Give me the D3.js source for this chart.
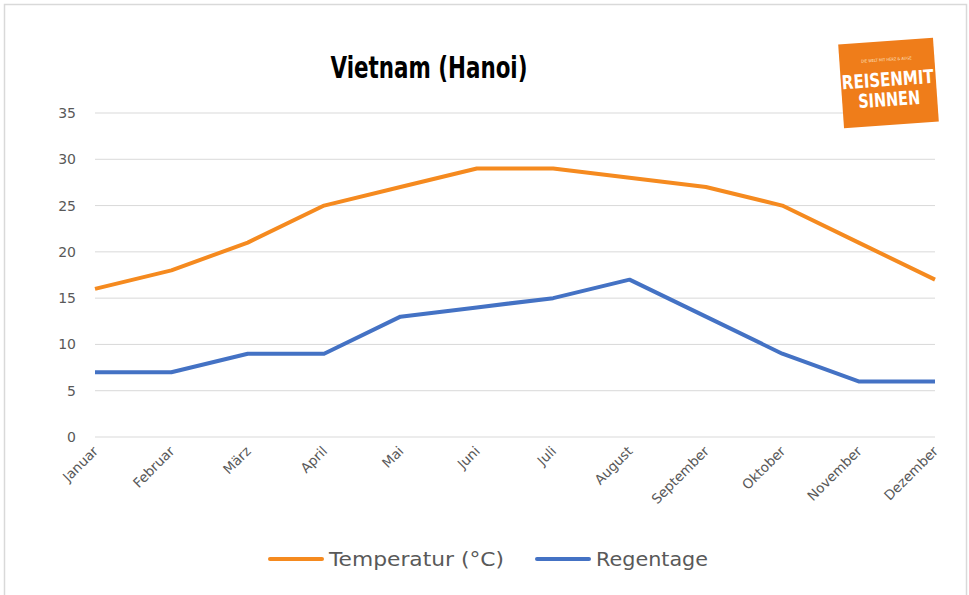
<!DOCTYPE html>
<html>
<head>
<meta charset="utf-8">
<script src="https://cdn.jsdelivr.net/npm/d3@7"></script>
<style>
  body { margin: 0; background: #fff; }
  svg { display: block; }
</style>
</head>
<body>
<div id="chart"></div>
<script>
// data
const months = ["Januar", "Februar", "März", "April", "Mai", "Juni", "Juli",
    "August", "September", "Oktober", "November", "Dezember"];
const temperatur = [16, 18, 21, 25, 27, 29, 29, 28, 27, 25, 21, 17];
const regentage = [7, 7, 9, 9, 13, 14, 15, 17, 13, 9, 6, 6];
const yTicks = [0, 5, 10, 15, 20, 25, 30, 35];
const seriesNames = ["Temperatur (°C)", "Regentage"];

const width = 969, height = 595;
const svg = d3.select("#chart").append("svg")
    .attr("width", width)
    .attr("height", height);

// outer frame
svg.append("rect")
    .attr("x", 4.5).attr("y", 4.5)
    .attr("width", 962).attr("height", 600)
    .attr("fill", "none")
    .attr("stroke", "#d9d9d9")
    .attr("stroke-width", 1.5);

const x = d3.scalePoint().domain(months).range([95, 935]);
const y = d3.scaleLinear().domain([0, 35]).range([437, 113]);

// gridlines
svg.append("g").selectAll("line")
    .data(yTicks)
    .enter().append("line")
    .attr("x1", 95).attr("x2", 935)
    .attr("y1", d => y(d)).attr("y2", d => y(d))
    .style("stroke", "#d9d9d9")
    .style("stroke-width", 1);

// y labels
svg.append("g").selectAll("text")
    .data(yTicks)
    .enter().append("text")
    .attr("x", 76)
    .attr("y", d => y(d) + 5)
    .attr("text-anchor", "end")
    .style("font-family", "DejaVu Sans")
    .style("font-size", "14px")
    .style("fill", "#595959")
    .text(d => d);

// x labels, rotated
svg.append("g").selectAll("text")
    .data(months)
    .enter().append("text")
    .attr("transform", d => `translate(${x(d) + 4},${452}) rotate(-45)`)
    .attr("text-anchor", "end")
    .style("font-family", "DejaVu Sans")
    .style("font-size", "13.5px")
    .style("fill", "#595959")
    .text(d => d);

const line = d3.line()
    .x((d, i) => x(months[i]))
    .y(d => y(d));

const colors = ["#f58a1f", "#4472c4"];
[temperatur, regentage].forEach((series, k) => {
    svg.append("path")
        .datum(series)
        .attr("d", line)
        .style("fill", "none")
        .style("stroke", colors[k])
        .style("stroke-width", 4)
        .style("stroke-linejoin", "round");
});

// title
svg.append("text")
    .attr("x", 429).attr("y", 78)
    .attr("text-anchor", "middle")
    .attr("textLength", 197)
    .attr("lengthAdjust", "spacingAndGlyphs")
    .style("font-family", "DejaVu Sans Condensed")
    .style("font-weight", "bold")
    .style("font-size", "31px")
    .style("fill", "#000")
    .text("Vietnam (Hanoi)");

// legend
const legend = svg.append("g");
const legendX = [270, 537];
const legendLen = [175, 112];
seriesNames.forEach((name, k) => {
    legend.append("line")
        .attr("x1", legendX[k]).attr("x2", legendX[k] + 52)
        .attr("y1", 559).attr("y2", 559)
        .style("stroke", colors[k])
        .style("stroke-width", 4)
        .style("stroke-linecap", "round");
    legend.append("text")
        .attr("x", legendX[k] + 59).attr("y", 566)
        .attr("textLength", legendLen[k])
        .attr("lengthAdjust", "spacingAndGlyphs")
        .style("font-family", "DejaVu Sans")
        .style("font-size", "20px")
        .style("fill", "#595959")
        .text(name);
});

// logo
const logo = svg.append("g")
    .attr("transform", "translate(888,83) rotate(-4)");
logo.append("rect")
    .attr("x", -47).attr("y", -42)
    .attr("width", 95).attr("height", 84)
    .attr("fill", "#ef7d1a");
logo.append("text")
    .attr("x", 0).attr("y", -22)
    .attr("text-anchor", "middle")
    .style("font-family", "DejaVu Sans Condensed")
    .style("font-size", "4px")
    .style("fill", "#fde3c8")
    .text("DIE WELT MIT HERZ & AUGE");
logo.append("text")
    .attr("x", 0).attr("y", 3)
    .attr("text-anchor", "middle")
    .style("font-family", "DejaVu Sans Condensed")
    .style("font-weight", "bold")
    .style("font-size", "19px")
    .attr("textLength", 92)
    .attr("lengthAdjust", "spacingAndGlyphs")
    .style("fill", "#fff")
    .text("REISENMIT");
logo.append("text")
    .attr("x", 0).attr("y", 23)
    .attr("text-anchor", "middle")
    .style("font-family", "DejaVu Sans Condensed")
    .style("font-weight", "bold")
    .style("font-size", "19px")
    .attr("textLength", 62)
    .attr("lengthAdjust", "spacingAndGlyphs")
    .style("fill", "#fff")
    .text("SINNEN");
</script>
</body>
</html>
